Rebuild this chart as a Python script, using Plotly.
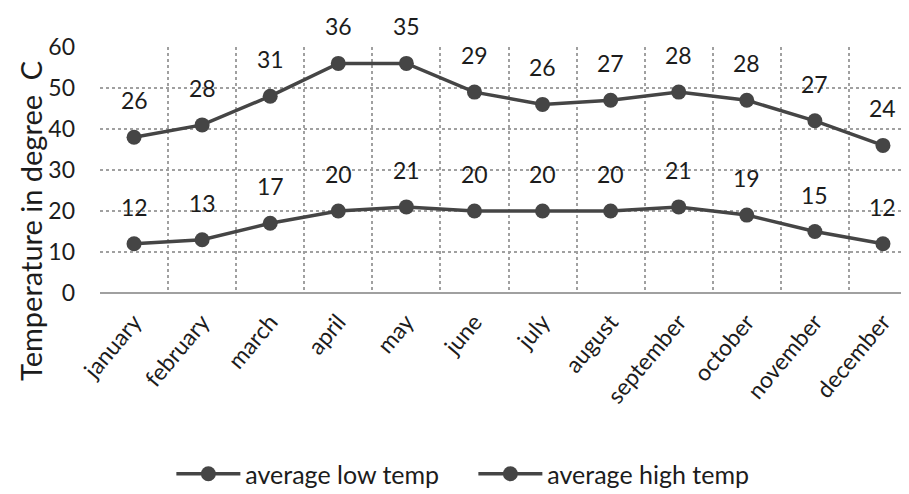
import plotly.graph_objects as go

months = ["january", "february", "march", "april", "may", "june", "july",
          "august", "september", "october", "november", "december"]
low_temp = [12, 13, 17, 20, 21, 20, 20, 20, 21, 19, 15, 12]
high_temp = [26, 28, 31, 36, 35, 29, 26, 27, 28, 28, 27, 24]
y_ticks = [0, 10, 20, 30, 40, 50, 60]
y_title = "Temperature in degree  C"

FONT = "Lato"
INK = "#1c1c1c"
LINE = "#454545"
GRID = "#a0a0a0"

fig = go.Figure()
fig.add_trace(go.Scatter(
    x=months, y=low_temp, name="average low temp", stackgroup="s", fill="none",
    mode="lines+markers", line=dict(color=LINE, width=3.5),
    marker=dict(color=LINE, size=15), hoverinfo="skip"))
fig.add_trace(go.Scatter(
    x=months, y=high_temp, name="average high temp", stackgroup="s", fill="none",
    mode="lines+markers", line=dict(color=LINE, width=3.5),
    marker=dict(color=LINE, size=15), hoverinfo="skip"))

# data labels (each series' own value, placed above its stacked point)
for i, m in enumerate(months):
    fig.add_annotation(x=m, y=low_temp[i], text=str(low_temp[i]), showarrow=False,
                       yshift=37, font=dict(size=23, color=INK, family=FONT))
    fig.add_annotation(x=m, y=low_temp[i] + high_temp[i], text=str(high_temp[i]),
                       showarrow=False, yshift=37,
                       font=dict(size=23, color=INK, family=FONT))

fig.add_annotation(xref="paper", yref="paper", x=-0.0845, y=0.293,
                   xanchor="center", yanchor="middle", text=y_title,
                   textangle=-90, showarrow=False,
                   font=dict(size=29, color=INK, family=FONT))

fig.update_layout(
    width=909, height=494,
    margin=dict(l=92, r=0, t=39, b=209),
    paper_bgcolor="white", plot_bgcolor="white",
    font=dict(family=FONT, color=INK),
    showlegend=True,
    legend=dict(orientation="h", x=0.457, xanchor="center", y=-0.736, yanchor="middle",
                font=dict(size=25, color=INK, family=FONT), itemwidth=64,
                entrywidth=223, entrywidthmode="pixels"),
    xaxis=dict(type="category", tickson="boundaries", showgrid=True,
               range=[-0.5, 11.5],
               gridcolor=GRID, griddash="dot", gridwidth=1.5, automargin=False,
               tickangle=-50, tickfont=dict(size=23, color=INK, family=FONT),
               ticklabelstandoff=10, showline=False, ticks=""),
    yaxis=dict(range=[0, 60], tickvals=y_ticks, showgrid=True, automargin=False,
               gridcolor=GRID, griddash="dot", gridwidth=1.5,
               zeroline=True, zerolinecolor=GRID, zerolinewidth=1.5,
               tickfont=dict(size=23, color=INK, family=FONT), ticklabelstandoff=24),
)

fig.write_html("out.html")
